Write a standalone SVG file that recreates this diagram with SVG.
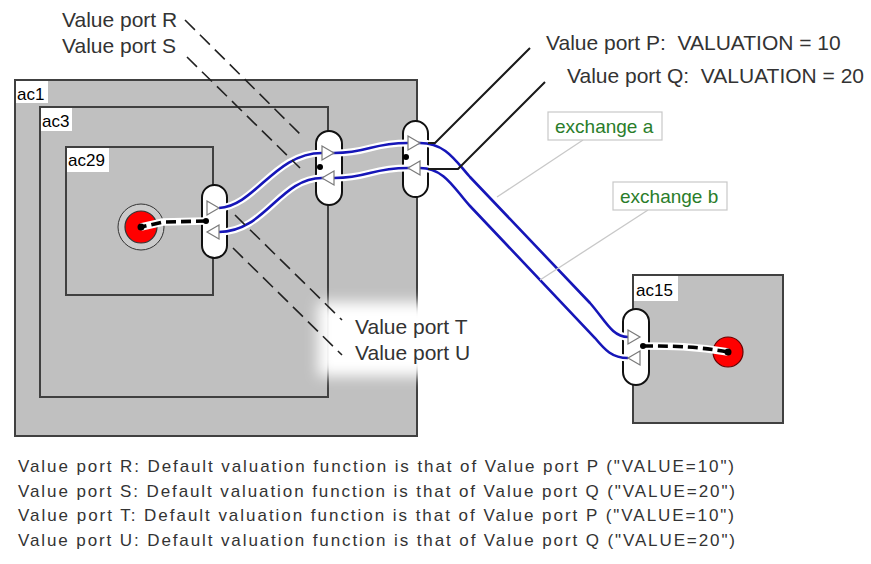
<svg xmlns="http://www.w3.org/2000/svg" width="871" height="564" viewBox="0 0 871 564">
<defs>
<filter id="glow" x="-50%" y="-50%" width="200%" height="200%"><feGaussianBlur stdDeviation="7"/></filter>
</defs>
<style>
.box{fill:#c0c0c0;stroke:#404040;stroke-width:2}
.lbl{fill:#fff}
.ac{font-family:"Liberation Sans",Arial,sans-serif;font-size:17px;fill:#000}
.port{fill:#fff;stroke:#111;stroke-width:2}
.tri{fill:#fff;stroke:#7a7a7a;stroke-width:1.2}
.halo{fill:none;stroke:#fff;stroke-width:7;stroke-linejoin:round}
.ex{fill:none;stroke:#1616b8;stroke-width:2.6}
.lhalo{fill:none;stroke:#fff;stroke-width:7.5}
.link{fill:none;stroke:#000;stroke-width:3.6;stroke-dasharray:10 5}
.lead{fill:none;stroke:#222;stroke-width:1.6;stroke-dasharray:14 7}
.sol{fill:none;stroke:#1a1a1a;stroke-width:2}
.note{font-family:"Liberation Sans",Arial,sans-serif;font-size:21px;fill:#333}
.xl{fill:#fff;stroke:#c8c8c8;stroke-width:1.2}
.xt{font-family:"Liberation Sans",Arial,sans-serif;font-size:19px;fill:#2a7d2a}
.xline{stroke:#c8c8c8;stroke-width:1.3}
.foot{font-family:"Liberation Sans",Arial,sans-serif;font-size:17px;fill:#333}
.dot{fill:#000}
</style>

<g id="ac1">
<rect class="box" x="15" y="80" width="402" height="356"/>
<rect class="lbl" x="16" y="81" width="32" height="22"/>
<text class="ac" x="17" y="100">ac1</text>
</g>
<g id="ac3">
<rect class="box" x="40" y="107" width="288" height="290"/>
<rect class="lbl" x="41" y="108" width="31" height="23"/>
<text class="ac" x="42" y="127">ac3</text>
</g>
<g id="ac29">
<rect class="box" x="66" y="147" width="147" height="148"/>
<rect class="lbl" x="67" y="148" width="42" height="24"/>
<text class="ac" x="68" y="166">ac29</text>
</g>
<g id="ac15">
<rect class="box" x="633" y="275" width="150" height="148"/>
<rect class="lbl" x="634" y="276" width="44" height="25"/>
<text class="ac" x="636" y="296">ac15</text>
</g>

<rect x="318" y="302" width="162" height="74" fill="#fff" filter="url(#glow)"/>

<g id="ports">
<rect id="port-ac29" class="port" x="202" y="185" width="25" height="73" rx="12.5"/>
<rect id="port-ac3" class="port" x="316" y="131" width="26" height="74" rx="13"/>
<rect id="port-ac1" class="port" x="403" y="121" width="25" height="76" rx="12.5"/>
<rect id="port-ac15" class="port" x="623" y="309" width="26" height="76" rx="13"/>
</g>

<g id="connectors">
<path class="halo" d="M219,208 C255,206 275,153 322,153 L334,153 C370,153 370,143 408,143 L420,143 C445,143 455,160 470,177 L590,303 C605,320 612,337 628,337"/>
<path class="halo" d="M628,358 C612,358 605,350 595,338 L470,206 C455,190 445,168 420,168 L408,168 C370,168 370,178 334,178 L322,178 C280,178 265,232 219,232"/>
<path id="exchange-a" class="ex" d="M219,208 C255,206 275,153 322,153 L334,153 C370,153 370,143 408,143 L420,143 C445,143 455,160 470,177 L590,303 C605,320 612,337 628,337"/>
<path id="exchange-b" class="ex" d="M628,358 C612,358 605,350 595,338 L470,206 C455,190 445,168 420,168 L408,168 C370,168 370,178 334,178 L322,178 C280,178 265,232 219,232"/>

<line class="xline" x1="583" y1="140" x2="497" y2="197"/>
<line class="xline" x1="648" y1="210" x2="540" y2="280"/>

<line class="lead" x1="185" y1="20" x2="303" y2="137"/>
<line class="lead" x1="187" y1="57" x2="300" y2="168"/>
<line class="lead" x1="235" y1="215" x2="342" y2="320"/>
<line class="lead" x1="233" y1="248" x2="342" y2="355"/>

<polyline class="sol" points="530,48 435,143 428,143"/>
<polyline class="sol" points="545,82 458,169 428,169"/>
</g>

<g id="triangles">
<polygon class="tri" points="207,201 219,208 207,215"/>
<polygon class="tri" points="219,225 207,232 219,239"/>
<polygon class="tri" points="322,146 334,153 322,160"/>
<polygon class="tri" points="334,171 322,178 334,185"/>
<polygon class="tri" points="408,136 420,143 408,150"/>
<polygon class="tri" points="420,161 408,168 420,175"/>
<polygon class="tri" points="628,330 640,337 628,344"/>
<polygon class="tri" points="640,351 628,358 640,365"/>
<circle class="dot" cx="320" cy="167" r="3"/>
<circle class="dot" cx="406" cy="157" r="3"/>
</g>

<g id="value-ac29">
<circle cx="141" cy="227" r="23" fill="#cbcbcb" stroke="#333" stroke-width="1"/>
<circle cx="141" cy="227" r="16" fill="#ff0000" stroke="#333" stroke-width="1.2"/>
<path class="lhalo" d="M206,221 L163,222 L141,227"/>
<path class="link" d="M206,221 L163,222 L141,227"/>
<circle class="dot" cx="141" cy="227" r="3.5"/>
<circle class="dot" cx="206" cy="221" r="3"/>
</g>
<g id="value-ac15">
<circle cx="728" cy="352" r="15" fill="#ff0000" stroke="#600" stroke-width="1.2"/>
<path class="lhalo" d="M643,346 C670,346 695,346 728,352"/>
<path class="link" d="M643,346 C670,346 695,346 728,352"/>
<circle class="dot" cx="728" cy="352" r="3.5"/>
<circle class="dot" cx="643" cy="346" r="3"/>
</g>

<g id="labels">
<text class="note" x="62" y="27">Value port R</text>
<text class="note" x="62" y="53">Value port S</text>
<text class="note" x="355" y="334">Value port T</text>
<text class="note" x="355" y="360">Value port U</text>
<text class="note" x="546" y="50" xml:space="preserve">Value port P:  VALUATION = 10</text>
<text class="note" x="567" y="83" xml:space="preserve">Value port Q:  VALUATION = 20</text>
</g>

<g id="exchange-a-label">
<rect class="xl" x="548" y="112" width="114" height="28"/>
<text class="xt" x="555" y="133">exchange a</text>
</g>
<g id="exchange-b-label">
<rect class="xl" x="613" y="182" width="114" height="28"/>
<text class="xt" x="620" y="203">exchange b</text>
</g>

<g id="footnotes">
<text class="foot" x="18" y="472" textLength="716">Value port R: Default valuation function is that of Value port P ("VALUE=10")</text>
<text class="foot" x="18" y="497" textLength="717">Value port S: Default valuation function is that of Value port Q ("VALUE=20")</text>
<text class="foot" x="18" y="521" textLength="716">Value port T: Default valuation function is that of Value port P ("VALUE=10")</text>
<text class="foot" x="18" y="546" textLength="717">Value port U: Default valuation function is that of Value port Q ("VALUE=20")</text>
</g>
</svg>
